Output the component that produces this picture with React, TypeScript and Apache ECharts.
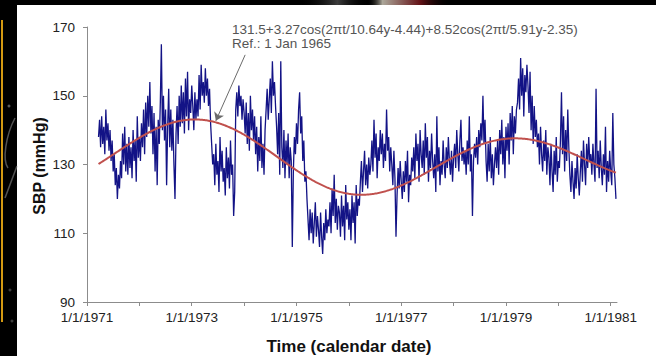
import React, { useEffect, useRef } from "react";
import * as echarts from "echarts";

// Systolic blood pressure record, one reading every 0.02 year from early 1971
const sbpStartYear = 1971.22;
const sbpStepYears = 0.02;
const sbpValues = [
  138, 143, 135, 144, 136, 141, 133, 146, 137, 142,
  134, 140, 131, 137, 128, 133, 124, 129, 120, 127,
  123, 131, 126, 139, 130, 141, 128, 136, 127, 138,
  129, 135, 126, 140, 131, 137, 125, 144, 132, 138,
  131, 142, 135, 146, 133, 148, 138, 150, 141, 154,
  139, 147, 133, 145, 128, 141, 124, 143, 136, 148,
  165, 140, 150, 137, 146, 124, 141, 152, 135, 146,
  134, 143, 130, 120, 139, 147, 136, 150, 141, 153,
  142, 151, 139, 155, 144, 157, 140, 149, 145, 153,
  147, 140, 151, 143, 149, 144, 156, 146, 159, 150,
  154, 148, 158, 150, 155, 147, 152, 142, 136, 130,
  133, 124, 136, 127, 131, 122, 138, 128, 134, 125,
  129, 121, 135, 126, 132, 123, 137, 127, 130, 115,
  122, 146, 151, 144, 153, 147, 150, 143, 149, 145,
  139, 148, 136, 145, 134, 150, 140, 146, 137, 144,
  133, 141, 128, 138, 131, 144, 129, 136, 127, 140,
  146, 152, 143, 149, 155, 145, 160, 150, 154, 147,
  141, 133, 145, 127, 160, 135, 129, 140, 126, 137,
  130, 139, 126, 135, 131, 106, 128, 138, 133, 142,
  136, 146, 151, 139, 144, 131, 137, 125, 128, 120,
  114, 108, 117, 110, 116, 107, 113, 119, 109, 115,
  111, 106, 116, 109, 104, 113, 108, 117, 110, 114,
  112, 119, 110, 123, 115, 127, 113, 120, 111, 118,
  116, 109, 121, 112, 118, 108, 124, 114, 119, 111,
  117, 108, 121, 113, 119, 107, 124, 115, 120, 118,
  125, 131, 122, 128, 134, 124, 130, 123, 132, 127,
  130, 137, 128, 143, 132, 139, 126, 135, 131, 140,
  133, 139, 129, 136, 131, 146, 134, 138, 128, 135,
  130, 124, 134, 126, 109, 121, 129, 123, 131, 125,
  120, 128, 122, 131, 125, 134, 119, 127, 124, 132,
  128, 135, 126, 139, 131, 136, 125, 140, 133, 129,
  137, 127, 142, 132, 138, 125, 134, 129, 139, 131,
  126, 133, 122, 144, 128, 135, 124, 131, 127, 137,
  130, 126, 135, 129, 138, 131, 127, 134, 125, 132,
  136, 129, 140, 133, 128, 137, 143, 131, 135, 130,
  134, 127, 137, 130, 144, 128, 133, 115, 131, 136,
  132, 138, 130, 140, 135, 142, 137, 150, 136, 143,
  131, 125, 136, 128, 138, 126, 133, 124, 130, 135,
  129, 137, 127, 140, 133, 143, 130, 138, 126, 141,
  134, 142, 130, 145, 137, 147, 133, 144, 139, 146,
  148, 155, 146, 161, 150, 158, 144, 156, 151, 159,
  153, 145, 157, 140, 150, 136, 147, 138, 143, 135,
  139, 130, 141, 133, 128, 137, 131, 140, 127, 135,
  132, 124, 136, 128, 122, 134, 127, 138, 125, 131,
  129, 137, 151, 133, 144, 128, 140, 131, 146, 135,
  127, 122, 131, 125, 120, 129, 123, 133, 126, 121,
  128, 134, 125, 137, 130, 124, 136, 129, 138, 131,
  133, 127, 136, 130, 125, 152, 129, 134, 126, 137,
  129, 124, 133, 127, 141, 122, 131, 125, 134, 128,
  124, 145, 130, 126, 120,
];

// Two-component cosinor fit, t in years since the reference date 1 Jan 1965
const fitMesor = 131.5;
const fitAmplitudes = [3.27, 8.52];
const fitPeriods = [10.64, 5.91];
const fitPhases = [-4.44, -2.35];
const fitRefYear = 1965;

// Axis ticks
const tickYears = [1971, 1972, 1973, 1974, 1975, 1976, 1977, 1978, 1979, 1980, 1981];
const labelYears = [1971, 1973, 1975, 1977, 1979, 1981];
const sbpTicks = [90, 110, 130, 150, 170];

const fitLabel =
  `${fitMesor}+${fitAmplitudes[0]}cos(2\u03c0t/${fitPeriods[0]}y${fitPhases[0]})` +
  `+${fitAmplitudes[1]}cos(2\u03c0t/${fitPeriods[1]}y${fitPhases[1]})`;

function fitValue(year: number): number {
  const t = year - fitRefYear;
  let v = fitMesor;
  for (let k = 0; k < fitAmplitudes.length; k++) {
    v += fitAmplitudes[k] * Math.cos((2 * Math.PI * t) / fitPeriods[k] + fitPhases[k]);
  }
  return v;
}

export default function App() {
  const ref = useRef<HTMLDivElement>(null);

  useEffect(() => {
    if (!ref.current) return;
    const chart = echarts.init(ref.current, undefined, { renderer: "svg" });

    const sbpData = sbpValues.map((v, i) => [
      +(sbpStartYear + i * sbpStepYears).toFixed(3),
      v,
    ]);
    const endYear = sbpData[sbpData.length - 1][0];
    const fitData: number[][] = [];
    for (let y = sbpStartYear; y <= endYear + 1e-9; y += 0.02) {
      fitData.push([y, fitValue(y)]);
    }

    const font = "Liberation Sans, Arial, Helvetica, sans-serif";

    chart.setOption({
      animation: false,
      backgroundColor: "#000000",
      grid: { left: 87, right: 39, top: 27, bottom: 54 },
      xAxis: {
        type: "value",
        min: 1971,
        max: 1981.12,
        axisLine: { show: true, lineStyle: { color: "#8c8c8c", width: 1 } },
        axisTick: {
          show: true,
          length: 4,
          customValues: tickYears,
          lineStyle: { color: "#8c8c8c" },
        },
        axisLabel: {
          customValues: labelYears,
          formatter: (v: number) => `1/1/${Math.round(v)}`,
          color: "#222222",
          fontFamily: font,
          fontSize: 13.5,
          margin: 8,
        },
        splitLine: { show: false },
      },
      yAxis: {
        type: "value",
        min: sbpTicks[0],
        max: sbpTicks[sbpTicks.length - 1],
        interval: 20,
        axisLine: { show: true, lineStyle: { color: "#8c8c8c", width: 1 } },
        axisTick: { show: true, length: 4, lineStyle: { color: "#8c8c8c" } },
        axisLabel: {
          color: "#222222",
          fontFamily: font,
          fontSize: 13.5,
          margin: 12,
        },
        splitLine: { show: false },
      },
      series: [
        {
          type: "line",
          name: "SBP",
          data: sbpData,
          showSymbol: false,
          lineStyle: { color: "#131386", width: 1.3 },
          z: 2,
        },
        {
          type: "line",
          name: "Fit",
          data: fitData,
          showSymbol: false,
          smooth: false,
          lineStyle: { color: "#c0504d", width: 2 },
          z: 3,
          markLine: {
            silent: true,
            symbol: ["none", "arrow"],
            symbolSize: 8,
            label: { show: false },
            lineStyle: { color: "#6b6b6b", width: 1, type: "solid" },
            data: [[{ coord: [1974.02, 161.9] }, { coord: [1973.46, 142.7] }]],
          },
        },
      ],
      graphic: [
        {
          type: "rect",
          z: -10,
          shape: { x: 17, y: 5, width: 639, height: 351 },
          style: { fill: "#ffffff" },
        },
        {
          type: "rect",
          z: -10,
          shape: { x: 1, y: 20, width: 2, height: 302 },
          style: { fill: "#d49a12" },
        },
        {
          type: "rect",
          z: -10,
          shape: { x: 300, y: 0, width: 150, height: 5 },
          style: {
            fill: new echarts.graphic.LinearGradient(0, 0, 1, 0, [
              { offset: 0, color: "rgba(0,0,0,0)" },
              { offset: 0.25, color: "rgba(120,120,120,0.5)" },
              { offset: 0.45, color: "rgba(0,0,0,0)" },
              { offset: 0.55, color: "rgba(190,185,170,0.9)" },
              { offset: 0.8, color: "rgba(110,20,25,0.9)" },
              { offset: 1, color: "rgba(0,0,0,0)" },
            ]),
          },
        },
        {
          type: "bezierCurve",
          z: -10,
          shape: { x1: 15, y1: 118, x2: 8, y2: 168, cpx1: 6, cpy1: 135, cpx2: 2, cpy2: 160 },
          style: { stroke: "rgba(150,150,150,0.55)", lineWidth: 1.5, fill: "none" },
        },
        {
          type: "line",
          z: -10,
          shape: { x1: 5, y1: 198, x2: 17, y2: 166 },
          style: { stroke: "rgba(150,150,150,0.55)", lineWidth: 1.5 },
        },
        {
          type: "circle",
          z: -10,
          shape: { cx: 9, cy: 106, r: 1.5 },
          style: { fill: "rgba(150,150,150,0.6)" },
        },
        {
          type: "circle",
          z: -10,
          shape: { cx: 10, cy: 290, r: 1.5 },
          style: { fill: "rgba(120,120,120,0.5)" },
        },
        {
          type: "circle",
          z: -10,
          shape: { cx: 12, cy: 321, r: 1.5 },
          style: { fill: "rgba(120,120,120,0.5)" },
        },
        {
          type: "text",
          x: 232,
          y: 29,
          style: {
            text: fitLabel,
            fill: "#555555",
            font: `13.5px ${font}`,
            textAlign: "left",
            textVerticalAlign: "middle",
          },
        },
        {
          type: "text",
          x: 232,
          y: 43.5,
          style: {
            text: `Ref.: 1 Jan ${fitRefYear}`,
            fill: "#555555",
            font: `13.5px ${font}`,
            textAlign: "left",
            textVerticalAlign: "middle",
          },
        },
        {
          type: "text",
          x: 39,
          y: 166,
          rotation: Math.PI / 2,
          style: {
            text: "SBP (mmHg)",
            fill: "#111111",
            font: `bold 16px ${font}`,
            textAlign: "center",
            textVerticalAlign: "middle",
          },
        },
        {
          type: "text",
          x: 349,
          y: 346,
          style: {
            text: "Time (calendar date)",
            fill: "#111111",
            font: `bold 17px ${font}`,
            textAlign: "center",
            textVerticalAlign: "middle",
          },
        },
      ],
    });

    return () => chart.dispose();
  }, []);

  return (
    <div
      style={{ position: "fixed", left: 0, top: 0, width: 656, height: 356, background: "#000" }}
    >
      <div ref={ref} style={{ width: 656, height: 356 }} />
    </div>
  );
}
